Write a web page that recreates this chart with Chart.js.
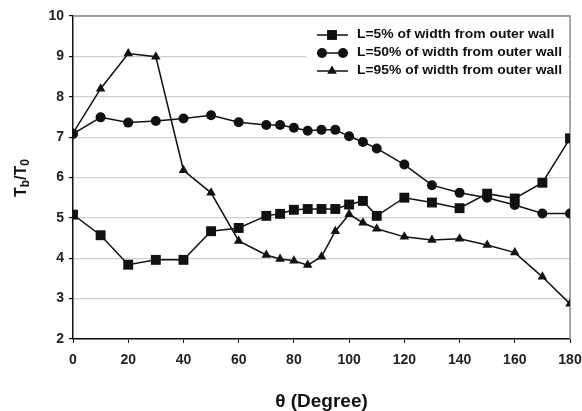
<!DOCTYPE html>
<html>
<head>
<meta charset="utf-8">
<script src="https://cdn.jsdelivr.net/npm/chart.js@4/dist/chart.umd.min.js"></script>
<style>
  html, body { margin: 0; padding: 0; background: #fff; }
  #wrap { width: 582px; height: 411px; }
</style>
</head>
<body>
<div id="wrap"><canvas id="tempChart" width="582" height="411"></canvas></div>
<script>
const thetas = [0, 10, 20, 30, 40, 50, 60, 70, 75, 80, 85, 90, 95, 100, 105, 110, 120, 130, 140, 150, 160, 170, 180];
const wall5  = [5.08, 4.57, 3.84, 3.96, 3.96, 4.67, 4.75, 5.05, 5.1, 5.2, 5.22, 5.22, 5.22, 5.33, 5.42, 5.05, 5.5, 5.38, 5.24, 5.6, 5.48, 5.87, 6.97];
const wall50 = [7.08, 7.49, 7.36, 7.4, 7.46, 7.54, 7.37, 7.3, 7.3, 7.23, 7.16, 7.18, 7.18, 7.02, 6.88, 6.72, 6.32, 5.81, 5.62, 5.5, 5.32, 5.11, 5.11];
const wall95 = [7.1, 8.2, 9.07, 8.99, 6.18, 5.62, 4.43, 4.08, 3.98, 3.94, 3.83, 4.04, 4.67, 5.09, 4.88, 4.73, 4.53, 4.45, 4.48, 4.33, 4.14, 3.54, 2.87];
const seriesLabels = [
  'L=5% of width from outer wall',
  'L=50% of width from outer wall',
  'L=95% of width from outer wall'
];
const xTitle = '\u03b8 (Degree)';

const FONT = "'Liberation Sans', Arial, sans-serif";
const INK = '#111';

function pts(ys) {
  return thetas.map((t, i) => ({ x: t, y: ys[i] }));
}

// top and right frame lines (gray)
const framePlugin = {
  id: 'frame',
  beforeDatasetsDraw(chart) {
    const { ctx, chartArea: a } = chart;
    ctx.save();
    ctx.strokeStyle = '#8a8a8a';
    ctx.lineWidth = 1.5;
    ctx.beginPath();
    ctx.moveTo(a.left, a.top);
    ctx.lineTo(a.right, a.top);
    ctx.lineTo(a.right, a.bottom);
    ctx.stroke();
    ctx.restore();
  }
};

// y axis title with subscripts: Tb/T0
const yTitlePlugin = {
  id: 'yTitle',
  afterDraw(chart) {
    const { ctx } = chart;
    ctx.save();
    ctx.translate(20, 178);
    ctx.rotate(-Math.PI / 2);
    ctx.fillStyle = INK;
    ctx.textBaseline = 'alphabetic';
    const big = 'bold 16px ' + FONT, small = 'bold 12px ' + FONT;
    const parts = [['T', big, 0], ['b', small, 3], ['/T', big, 0], ['0', small, 3]];
    let w = 0;
    parts.forEach(p => { ctx.font = p[1]; w += ctx.measureText(p[0]).width; });
    let x = -w / 2;
    parts.forEach(p => {
      ctx.font = p[1];
      ctx.fillText(p[0], x, 6 + p[2]);
      x += ctx.measureText(p[0]).width;
    });
    ctx.restore();
  }
};

// legend box inside the plot, top right
const legendPlugin = {
  id: 'boxLegend',
  afterDatasetsDraw(chart) {
    const { ctx } = chart;
    ctx.save();
    ctx.fillStyle = '#fff';
    ctx.fillRect(306, 18, 262, 70);
    ctx.font = 'bold 12px ' + FONT;
    const sx = 205 / ctx.measureText(seriesLabels[1]).width;
    chart.data.datasets.forEach((ds, i) => {
      const y = 35 + i * 18;
      ctx.strokeStyle = INK;
      ctx.lineWidth = 1.5;
      ctx.beginPath();
      ctx.moveTo(317, y);
      ctx.lineTo(348, y);
      ctx.stroke();
      ctx.fillStyle = INK;
      const xs = ds.pointStyle === 'circle' ? [322, 343] : [332];
      xs.forEach(px => {
        Chart.helpers.drawPoint(ctx, { pointStyle: ds.pointStyle, radius: ds.pointRadius, rotation: 0, borderWidth: 0 }, px, y);
      });
      ctx.save();
      ctx.translate(357, y);
      ctx.scale(sx, 1);
      ctx.textBaseline = 'middle';
      ctx.fillText(ds.label, 0, 0);
      ctx.restore();
    });
    ctx.restore();
  }
};

const baseSet = {
  borderColor: INK,
  backgroundColor: INK,
  borderWidth: 1.5,
  pointBorderWidth: 0,
  pointHoverRadius: 5,
  tension: 0
};

const config = {
  type: 'line',
  data: {
    datasets: [
      { ...baseSet, label: seriesLabels[0], data: pts(wall5),  pointStyle: 'rect',     pointRadius: 7 },
      { ...baseSet, label: seriesLabels[1], data: pts(wall50), pointStyle: 'circle',   pointRadius: 5 },
      { ...baseSet, label: seriesLabels[2], data: pts(wall95), pointStyle: 'triangle', pointRadius: 5.5 }
    ]
  },
  options: {
    responsive: false,
    animation: false,
    layout: { padding: { left: 0, top: 16, right: 0, bottom: 0 } },
    plugins: {
      legend: { display: false },
      tooltip: { enabled: false }
    },
    scales: {
      x: {
        type: 'linear',
        min: 0,
        max: 180,
        ticks: { stepSize: 20, color: '#222', font: { family: FONT, size: 14, weight: 'bold' }, padding: 9 },
        grid: { drawOnChartArea: false, drawTicks: true, tickLength: 4, tickColor: INK },
        border: { color: INK, width: 1.5 },
        title: { display: true, text: xTitle, color: INK, font: { family: FONT, size: 19, weight: 'bold' }, padding: { top: 22, bottom: -2 } },
        afterFit(s) { s.height = 72; s.paddingLeft = 0; s.paddingRight = 12; }
      },
      y: {
        min: 2,
        max: 10,
        ticks: { stepSize: 1, color: '#222', font: { family: FONT, size: 14, weight: 'bold' }, padding: 5 },
        grid: { color: '#cfcfcf', lineWidth: 1.2, tickLength: 4, tickColor: INK },
        border: { color: INK, width: 1.5 },
        afterFit(s) { s.width = 73; s.paddingTop = 0; s.paddingBottom = 0; }
      }
    }
  },
  plugins: [framePlugin, legendPlugin, yTitlePlugin]
};

const ctx = document.getElementById('tempChart').getContext('2d');
const myChart = new Chart(ctx, config);
</script>
</body>
</html>
